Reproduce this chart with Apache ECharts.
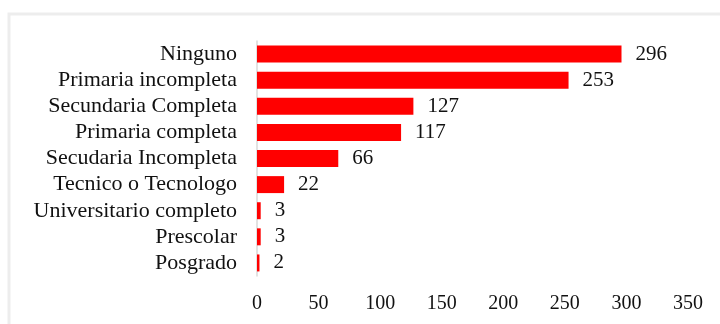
<!DOCTYPE html>
<html>
<head>
<meta charset="utf-8">
<script src="https://cdn.jsdelivr.net/npm/echarts@6/dist/echarts.min.js"></script>
<style>
  html, body { margin: 0; padding: 0; background: #fff; }
  #chart { width: 720px; height: 324px; }
</style>
</head>
<body>
<div id="chart"></div>
<script>
// categories listed top to bottom
const categories = [
  'Ninguno',
  'Primaria incompleta',
  'Secundaria Completa',
  'Primaria completa',
  'Secudaria Incompleta',
  'Tecnico o Tecnologo',
  'Universitario completo',
  'Prescolar',
  'Posgrado'
];
const counts = [296, 253, 127, 117, 66, 22, 3, 3, 2];
const xTicks = [0, 50, 100, 150, 200, 250, 300, 350];

const font = '"Liberation Serif", "Times New Roman", serif';

const chart = echarts.init(document.getElementById('chart'));

const option = {
  animation: false,
  backgroundColor: '#fff',
  graphic: [
    {
      // light frame around the chart area
      type: 'rect',
      shape: { x: 9, y: 14, width: 730, height: 330 },
      style: { fill: 'none', stroke: '#ededed', lineWidth: 3 }
    }
  ],
  grid: {
    left: 257,
    right: 32,
    top: 41,
    bottom: 48
  },
  xAxis: {
    type: 'value',
    min: xTicks[0],
    max: xTicks[xTicks.length - 1],
    interval: 50,
    axisLine: { show: false },
    axisTick: { show: false },
    splitLine: { show: false },
    axisLabel: {
      margin: 18,
      color: '#111',
      fontFamily: font,
      fontSize: 20
    }
  },
  yAxis: {
    type: 'category',
    inverse: true,
    data: categories,
    axisLine: { show: true, lineStyle: { color: '#d9d9d9', width: 1.5 } },
    axisTick: { show: false },
    axisLabel: {
      interval: 0,
      hideOverlap: false,
      margin: 20,
      color: '#111',
      fontFamily: font,
      fontSize: 22
    }
  },
  series: [
    {
      type: 'bar',
      data: counts,
      barCategoryGap: '35%',
      itemStyle: { color: '#ff0000' },
      label: {
        show: true,
        position: 'right',
        distance: 14,
        color: '#111',
        fontFamily: font,
        fontSize: 21
      }
    }
  ]
};

chart.setOption(option);
</script>
</body>
</html>
